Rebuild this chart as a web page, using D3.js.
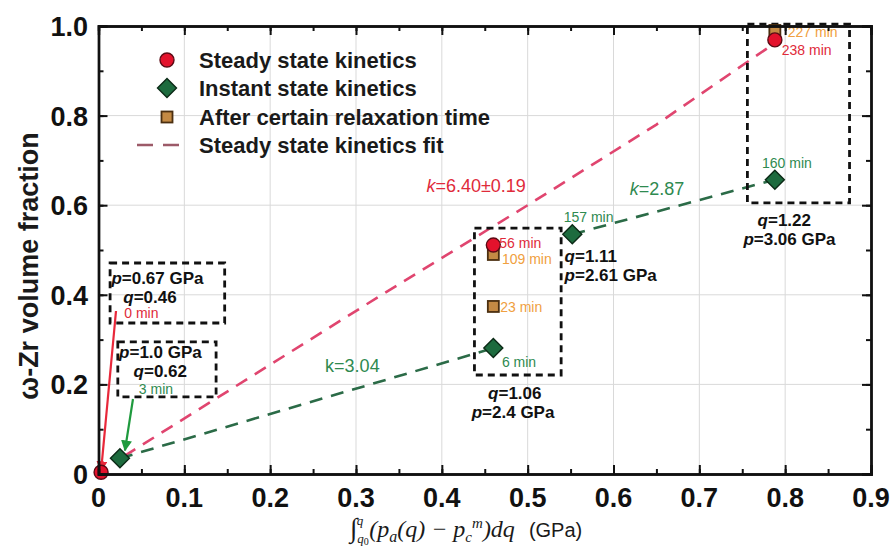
<!DOCTYPE html>
<html>
<head>
<meta charset="utf-8">
<script src="https://cdn.jsdelivr.net/npm/d3@7"></script>
<style>
  html, body { margin: 0; padding: 0; background: #fff; }
  svg { display: block; font-family: "Liberation Sans", Arial, sans-serif; }
</style>
</head>
<body>
<svg id="chart" width="893" height="551"></svg>
<script>
// ---- data ----
const steadyX = [0.003, 0.460, 0.788];
const steadyY = [0.004, 0.511, 0.969];
const steadyLabels = ["0 min", "56 min", "238 min"];

const instantX = [0.025, 0.460, 0.552, 0.788];
const instantY = [0.035, 0.281, 0.535, 0.657];
const instantLabels = ["3 min", "6 min", "157 min", "160 min"];

const relaxX = [0.460, 0.460, 0.788];
const relaxY = [0.374, 0.490, 0.990];
const relaxLabels = ["23 min", "109 min", "227 min"];

// steady state kinetics fit (k = 6.40 ± 0.19)
const steadyFitX = [0.030, 0.330, 0.500, 0.650, 0.788];
const steadyFitY = [0.040, 0.400, 0.600, 0.780, 0.962];
// instant state kinetics fits (k = 3.04 and k = 2.87)
const instantFitLowX = [0.025, 0.460];
const instantFitLowY = [0.035, 0.281];
const instantFitHighX = [0.552, 0.788];
const instantFitHighY = [0.535, 0.657];

const xTicks = [0, 0.1, 0.2, 0.3, 0.4, 0.5, 0.6, 0.7, 0.8, 0.9];
const xTickLabels = ["0", "0.1", "0.2", "0.3", "0.4", "0.5", "0.6", "0.7", "0.8", "0.9"];
const yTicks = [0, 0.2, 0.4, 0.6, 0.8, 1.0];
const yTickLabels = ["0", "0.2", "0.4", "0.6", "0.8", "1.0"];

const legendLabels = ["Steady state kinetics", "Instant state kinetics",
                      "After certain relaxation time", "Steady state kinetics fit"];

// ---- layout ----
const svg = d3.select("#chart");
const x = d3.scaleLinear().domain([0, 0.9]).range([98.5, 871]);
const y = d3.scaleLinear().domain([0, 1]).range([474, 26]);

const RED = "#e3122c", RED_EDGE = "#5c0a14";
const GREEN = "#1d6b3e", GREEN_EDGE = "#0b2a16";
const SQ = "#c48a44", SQ_EDGE = "#4b2f10";
const FIT_RED = "#e0456f", FIT_GREEN = "#2b6b47";
const TXT_RED = "#e02a3a", TXT_GREEN = "#2f8a50", TXT_ORANGE = "#f0a040";

const defs = svg.append("defs");
function arrowMarker(id, color) {
  defs.append("marker").attr("id", id).attr("viewBox", "0 0 10 10")
    .attr("refX", 9).attr("refY", 5).attr("markerWidth", 5).attr("markerHeight", 5)
    .attr("orient", "auto")
    .append("path").attr("d", "M0,0 L10,5 L0,10 z").attr("fill", color);
}
arrowMarker("arrRed", "#e8283a");
arrowMarker("arrGreen", "#1f9a3e");

// gridlines
const grid = svg.append("g");
grid.selectAll("line.vx").data(xTicks.slice(1, -1)).join("line")
  .attr("x1", d => x(d)).attr("x2", d => x(d)).attr("y1", y(0)).attr("y2", y(1))
  .attr("stroke", "#d9d9d9").attr("stroke-width", 1);
grid.selectAll("line.hy").data(yTicks.slice(1, -1)).join("line")
  .attr("y1", d => y(d)).attr("y2", d => y(d)).attr("x1", x(0)).attr("x2", x(0.9))
  .attr("stroke", "#d9d9d9").attr("stroke-width", 1);

// fit lines
const line = d3.line().x(d => x(d[0])).y(d => y(d[1]));
function fitPath(xs, ys, color) {
  svg.append("path").datum(d3.zip(xs, ys)).attr("d", line)
    .attr("fill", "none").attr("stroke", color).attr("stroke-width", 2.6)
    .attr("stroke-dasharray", "13,9");
}
fitPath(steadyFitX, steadyFitY, FIT_RED);
fitPath(instantFitLowX, instantFitLowY, FIT_GREEN);
fitPath(instantFitHighX, instantFitHighY, FIT_GREEN);

// dashed annotation boxes [x0, x1, y0, y1]
const boxes = [
  [0.0135, 0.147, 0.337, 0.471],
  [0.0225, 0.137, 0.172, 0.295],
  [0.438, 0.539, 0.221, 0.549],
  [0.756, 0.875, 0.605, 1.004]
];
svg.append("g").selectAll("rect").data(boxes).join("rect")
  .attr("x", d => x(d[0])).attr("y", d => y(d[3]))
  .attr("width", d => x(d[1]) - x(d[0])).attr("height", d => y(d[2]) - y(d[3]))
  .attr("fill", "none").attr("stroke", "#111").attr("stroke-width", 2.8)
  .attr("stroke-dasharray", "7,5");

// callout arrows toward the first points
svg.append("line").attr("x1", 116).attr("y1", 311)
  .attr("x2", x(steadyX[0])).attr("y2", y(steadyY[0]) - 1)
  .attr("stroke", "#e8283a").attr("stroke-width", 2.2).attr("marker-end", "url(#arrRed)");
svg.append("line").attr("x1", 133).attr("y1", 399)
  .attr("x2", x(instantX[0]) + 5).attr("y2", y(instantY[0]) - 8)
  .attr("stroke", "#1f9a3e").attr("stroke-width", 2.2).attr("marker-end", "url(#arrGreen)");

// markers
const diamond = s => `M0,${-s} L${s},0 L0,${s} L${-s},0 Z`;
svg.append("g").selectAll("rect").data(d3.zip(relaxX, relaxY)).join("rect")
  .attr("x", d => x(d[0]) - 5.5).attr("y", d => y(d[1]) - 5.5)
  .attr("width", 11).attr("height", 11)
  .attr("fill", SQ).attr("stroke", SQ_EDGE).attr("stroke-width", 1.8);
svg.append("g").selectAll("circle").data(d3.zip(steadyX, steadyY)).join("circle")
  .attr("cx", d => x(d[0])).attr("cy", d => y(d[1])).attr("r", 7)
  .attr("fill", RED).attr("stroke", RED_EDGE).attr("stroke-width", 1.4);
svg.append("g").selectAll("path").data(d3.zip(instantX, instantY)).join("path")
  .attr("transform", d => `translate(${x(d[0])},${y(d[1])})`)
  .attr("d", diamond(9.5))
  .attr("fill", GREEN).attr("stroke", GREEN_EDGE).attr("stroke-width", 1.4);

// text helper
function label(px, py, str, opts = {}) {
  return svg.append("text").attr("x", px).attr("y", py)
    .attr("font-size", opts.size || 14)
    .attr("font-weight", opts.weight || "normal")
    .attr("fill", opts.color || "#111")
    .attr("text-anchor", opts.anchor || "start")
    .text(str);
}

// time labels next to points (positions in data units)
const steadyLabelPos = [[0.030, 0.348], [0.467, 0.504], [0.796, 0.935]];
const instantLabelPos = [[0.047, 0.178], [0.470, 0.239], [0.542, 0.562], [0.773, 0.683]];
const relaxLabelPos = [[0.468, 0.362], [0.470, 0.469], [0.803, 0.975]];
steadyLabels.forEach((t, i) => label(x(steadyLabelPos[i][0]), y(steadyLabelPos[i][1]), t, { color: TXT_RED }));
instantLabels.forEach((t, i) => label(x(instantLabelPos[i][0]), y(instantLabelPos[i][1]), t, { color: TXT_GREEN }));
relaxLabels.forEach((t, i) => label(x(relaxLabelPos[i][0]), y(relaxLabelPos[i][1]), t, { color: TXT_ORANGE }));

// pressure / q notes
function pqNote(px, py, parts, anchor) {
  const t = svg.append("text").attr("x", px).attr("y", py)
    .attr("font-size", 17).attr("font-weight", "bold").attr("fill", "#111")
    .attr("text-anchor", anchor || "start");
  parts.forEach(p => t.append("tspan").attr("font-style", p[1] ? "italic" : "normal").text(p[0]));
}
pqNote(x(0.0150), y(0.424), [["p", 1], ["=0.67 GPa", 0]]);
pqNote(x(0.0600), y(0.382), [["q", 1], ["=0.46", 0]], "middle");
pqNote(x(0.0240), y(0.258), [["p", 1], ["=1.0 GPa", 0]]);
pqNote(x(0.0720), y(0.216), [["q", 1], ["=0.62", 0]], "middle");
pqNote(x(0.543), y(0.473), [["q", 1], ["=1.11", 0]]);
pqNote(x(0.543), y(0.431), [["p", 1], ["=2.61 GPa", 0]]);
pqNote(x(0.485), y(0.167), [["q", 1], ["=1.06", 0]], "middle");
pqNote(x(0.483), y(0.125), [["p", 1], ["=2.4 GPa", 0]], "middle");
pqNote(x(0.799), y(0.554), [["q", 1], ["=1.22", 0]], "middle");
pqNote(x(0.805), y(0.512), [["p", 1], ["=3.06 GPa", 0]], "middle");

// slope labels
function kLabel(px, py, italicK, rest, color) {
  const t = svg.append("text").attr("x", px).attr("y", py)
    .attr("font-size", 18).attr("fill", color);
  t.append("tspan").attr("font-style", italicK ? "italic" : "normal").text("k");
  t.append("tspan").text(rest);
}
kLabel(x(0.382), y(0.630), true, "=6.40\u00b10.19", TXT_RED);
kLabel(x(0.619), y(0.623), true, "=2.87", TXT_GREEN);
kLabel(x(0.264), y(0.228), false, "=3.04", TXT_GREEN);

// legend
const lg = svg.append("g");
const rowBase = [68, 96, 125, 153];
lg.append("circle").attr("cx", 167).attr("cy", rowBase[0] - 8).attr("r", 7)
  .attr("fill", RED).attr("stroke", RED_EDGE).attr("stroke-width", 1.4);
lg.append("path").attr("transform", `translate(167,${rowBase[1] - 8})`).attr("d", diamond(9.5))
  .attr("fill", GREEN).attr("stroke", GREEN_EDGE).attr("stroke-width", 1.4);
lg.append("rect").attr("x", 161.5).attr("y", rowBase[2] - 13.5).attr("width", 11).attr("height", 11)
  .attr("fill", SQ).attr("stroke", SQ_EDGE).attr("stroke-width", 1.8);
lg.append("line").attr("x1", 137).attr("x2", 181).attr("y1", rowBase[3] - 8).attr("y2", rowBase[3] - 8)
  .attr("stroke", "#9c5a68").attr("stroke-width", 2.6).attr("stroke-dasharray", "16,10");
legendLabels.forEach((t, i) => {
  lg.append("text").attr("x", 199).attr("y", rowBase[i]).attr("font-size", 22)
    .attr("font-weight", "bold").attr("fill", "#1a1a1a").text(t);
});

// axes frame with inward ticks
const ax = svg.append("g");
const xMinor = d3.range(0, 0.9001, 0.05);
const yMinor = d3.range(0, 1.0001, 0.1);
ax.append("g").attr("transform", `translate(0,${y(0)})`)
  .call(d3.axisBottom(x).tickValues(xMinor).tickSize(-5).tickFormat(""));
ax.append("g").attr("transform", `translate(0,${y(0)})`)
  .call(d3.axisBottom(x).tickValues(xTicks).tickSize(-9).tickFormat(""));
ax.append("g").attr("transform", `translate(0,${y(1)})`)
  .call(d3.axisTop(x).tickValues(xMinor).tickSize(-5).tickFormat(""));
ax.append("g").attr("transform", `translate(0,${y(1)})`)
  .call(d3.axisTop(x).tickValues(xTicks).tickSize(-9).tickFormat(""));
ax.append("g").attr("transform", `translate(${x(0)},0)`)
  .call(d3.axisLeft(y).tickValues(yMinor).tickSize(-5).tickFormat(""));
ax.append("g").attr("transform", `translate(${x(0)},0)`)
  .call(d3.axisLeft(y).tickValues(yTicks).tickSize(-9).tickFormat(""));
ax.append("g").attr("transform", `translate(${x(0.9)},0)`)
  .call(d3.axisRight(y).tickValues(yMinor).tickSize(-5).tickFormat(""));
ax.append("g").attr("transform", `translate(${x(0.9)},0)`)
  .call(d3.axisRight(y).tickValues(yTicks).tickSize(-9).tickFormat(""));
ax.selectAll(".domain").attr("stroke", "#111").attr("stroke-width", 2.4);
ax.selectAll(".tick line").attr("stroke", "#111").attr("stroke-width", 2);

// tick labels
svg.append("g").selectAll("text").data(xTicks).join("text")
  .attr("x", d => x(d)).attr("y", 507).attr("text-anchor", "middle")
  .attr("font-size", 27).attr("font-weight", "bold").attr("fill", "#111")
  .text((d, i) => xTickLabels[i]);
svg.append("g").selectAll("text").data(yTicks).join("text")
  .attr("x", 88).attr("y", d => y(d) + 10).attr("text-anchor", "end")
  .attr("font-size", 27).attr("font-weight", "bold").attr("fill", "#111")
  .text((d, i) => yTickLabels[i]);

// axis titles
svg.append("text").attr("transform", `translate(38,266) rotate(-90)`)
  .attr("text-anchor", "middle").attr("font-size", 27).attr("fill", "#1a1a1a")
  .attr("font-weight", "bold").text("\u03c9-Zr volume fraction");

const xt = svg.append("text").attr("x", 466).attr("y", 537).attr("text-anchor", "middle")
  .attr("fill", "#1a1a1a");
const serif = "'Liberation Serif', 'DejaVu Serif', serif";
xt.append("tspan").attr("font-family", serif).attr("font-size", 27).text("\u222b");
xt.append("tspan").attr("font-family", serif).attr("font-style", "italic").attr("font-size", 13)
  .attr("dy", 6).text("q");
xt.append("tspan").attr("font-family", serif).attr("font-size", 10).attr("dy", 2).text("0");
xt.append("tspan").attr("font-family", serif).attr("font-style", "italic").attr("font-size", 13)
  .attr("dx", -12).attr("dy", -20).text("q");
xt.append("tspan").attr("font-family", serif).attr("font-style", "italic").attr("font-size", 24)
  .attr("dx", 6).attr("dy", 12).text("(p");
xt.append("tspan").attr("font-family", serif).attr("font-style", "italic").attr("font-size", 16)
  .attr("dy", 5).text("a");
xt.append("tspan").attr("font-family", serif).attr("font-style", "italic").attr("font-size", 24)
  .attr("dy", -5).text("(q) \u2212 p");
xt.append("tspan").attr("font-family", serif).attr("font-style", "italic").attr("font-size", 15)
  .attr("dy", 5).text("c");
xt.append("tspan").attr("font-family", serif).attr("font-style", "italic").attr("font-size", 15)
  .attr("dx", 0).attr("dy", -14).text("m");
xt.append("tspan").attr("font-family", serif).attr("font-style", "italic").attr("font-size", 24)
  .attr("dy", 9).text(")dq");
xt.append("tspan").attr("font-size", 20).attr("dx", 14).text("(GPa)");
</script>
</body>
</html>
